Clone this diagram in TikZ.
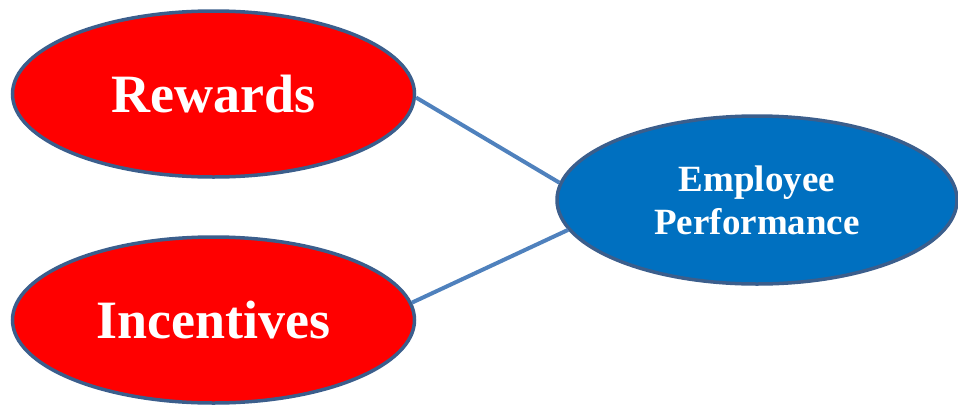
\documentclass[tikz,border=0pt]{standalone}
\usepackage{fontspec}
\setmainfont{Liberation Serif}
\usetikzlibrary{shapes.geometric}
\definecolor{redfill}{HTML}{FF0000}
\definecolor{bluefill}{HTML}{0070C0}
\definecolor{rimblue}{HTML}{3B5E8C}
\definecolor{linkblue}{HTML}{4F81BD}
\begin{document}
\begin{tikzpicture}[x=1pt,y=1pt,
  oval/.style={ellipse, draw=rimblue, line width=3.5pt, inner sep=0pt,
    text=white, font=\bfseries, align=center},
  cause/.style={oval, fill=redfill, minimum width=402pt, minimum height=166pt,
    font=\bfseries\fontsize{54}{60}\selectfont},
  effect/.style={oval, fill=bluefill, minimum width=400pt, minimum height=168pt,
    font=\bfseries\fontsize{37}{43}\selectfont},
  link/.style={draw=linkblue, line width=4pt}]
\useasboundingbox (0,0) rectangle (958,-405);
\node[cause] (rew) at (213.5,-94) {Rewards};
\node[cause] (inc) at (213.5,-320) {Incentives};
\node[effect] (emp) at (757,-200) {Employee\\Performance};
\draw[link] (rew.-1) -- (emp.175);
\draw[link] (inc.5) -- (emp.189);
\end{tikzpicture}
\end{document}
